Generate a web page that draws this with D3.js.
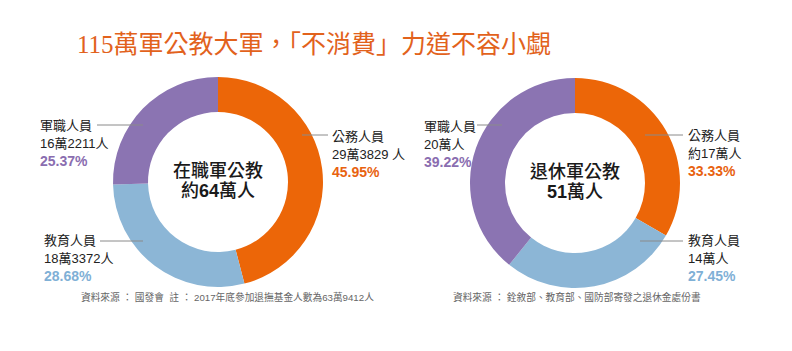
<!DOCTYPE html>
<html><head><meta charset="utf-8">
<script src="https://cdn.jsdelivr.net/npm/d3@7"></script>
<style>
html,body{margin:0;padding:0;background:#fff;}
svg{display:block;}
text{font-family:"Liberation Sans","Noto Sans CJK TC",sans-serif;}
</style></head>
<body>
<script>
const title = "115萬軍公教大軍，「不消費」力道不容小覷";
const categories = ["公務人員", "教育人員", "軍職人員"];
const activeValues = [293829, 183372, 162211];
const activeCounts = ["29萬3829 人", "18萬3372人", "16萬2211人"];
const activePercents = ["45.95%", "28.68%", "25.37%"];
const retiredValues = [17, 14, 20];
const retiredCounts = ["約17萬人", "14萬人", "20萬人"];
const retiredPercents = ["33.33%", "27.45%", "39.22%"];
const centerLabels = [["在職軍公教", "約", "64", "萬人"], ["退休軍公教", "", "51", "萬人"]];
const notes = ["資料來源 ： 國發會  註 ： 2017年底參加退撫基金人數為63萬9412人",
               "資料來源 ： 銓敘部、教育部、國防部寄發之退休金處份書"];

const colors = ["#ec6608", "#8cb6d6", "#8b74b2"];
const textColors = ["#e8620f", "#7fb0d6", "#8a6db0"];

const W = 792, H = 351;
const svg = d3.select("body").append("svg").attr("width", W).attr("height", H);

svg.append("text").attr("x", 77).attr("y", 53)
  .style("font-family", "'Liberation Serif','Noto Sans CJK TC',serif")
  .style("font-size", "25px").attr("fill", "#e2621c").text(title);

const R = 105, r = 70;
const pie = d3.pie().sort(null).value(d => d);
const arc = d3.arc().innerRadius(r).outerRadius(R);

const charts = [
  {cx: 218, cy: 182, values: activeValues, counts: activeCounts, pcts: activePercents,
   labels: [
     {tx: 332, ty: 141, lx1: 302, lx2: 328, ly: 135},
     {tx: 44, ty: 245, lx1: 100, lx2: 143, ly: 241},
     {tx: 40, ty: 130, lx1: 97, lx2: 143, ly: 125}
   ], note: notes[0], noteX: 81},
  {cx: 575, cy: 183, values: retiredValues, counts: retiredCounts, pcts: retiredPercents,
   labels: [
     {tx: 688, ty: 140, lx1: 645, lx2: 683, ly: 135},
     {tx: 688, ty: 245, lx1: 640, lx2: 683, ly: 241},
     {tx: 424, ty: 131, lx1: 477, lx2: 502, ly: 125}
   ], note: notes[1], noteX: 453}
];

charts.forEach((c, ci) => {
  const g = svg.append("g").attr("transform", `translate(${c.cx},${c.cy})`);
  g.selectAll("path").data(pie(c.values)).join("path")
    .attr("d", arc).attr("fill", (d, i) => colors[i]);

  const cl = centerLabels[ci];
  g.append("text").attr("text-anchor", "middle").attr("y", -5)
    .style("font-size", "18px").style("font-weight", 500).attr("fill", "#1a1a1a").text(cl[0]);
  const t2 = g.append("text").attr("text-anchor", "middle").attr("y", 15)
    .style("font-size", "18px").style("font-weight", 500).attr("fill", "#1a1a1a");
  if (cl[1]) t2.append("tspan").text(cl[1]);
  t2.append("tspan").style("font-weight", "bold").text(cl[2]);
  t2.append("tspan").text(cl[3]);

  c.labels.forEach((L, i) => {
    svg.append("line").attr("x1", L.lx1).attr("x2", L.lx2).attr("y1", L.ly).attr("y2", L.ly)
      .attr("stroke", "#8a8a8a").attr("stroke-width", 1);
    svg.append("text").attr("x", L.tx).attr("y", L.ty).style("font-size", "13px")
      .attr("fill", "#222").text(categories[i]);
    svg.append("text").attr("x", L.tx).attr("y", L.ty + 18).style("font-size", "13px")
      .attr("fill", "#222").text(c.counts[i]);
    svg.append("text").attr("x", L.tx).attr("y", L.ty + 36).style("font-size", "14px")
      .style("font-weight", "bold").attr("fill", textColors[i]).text(c.pcts[i]);
  });

  svg.append("text").attr("x", c.noteX).attr("y", 301).style("font-size", "9.7px")
    .attr("fill", "#666").style("white-space", "pre").text(c.note);
});
</script>
</body></html>
